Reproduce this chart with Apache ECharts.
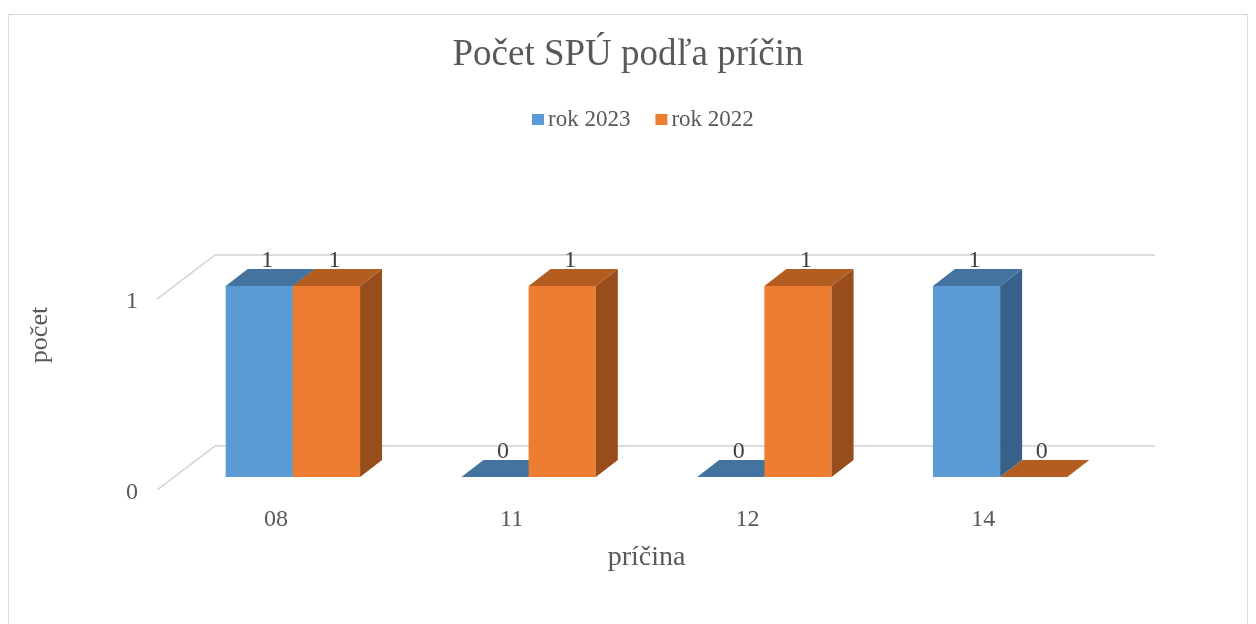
<!DOCTYPE html>
<html>
<head>
<meta charset="utf-8">
<script src="https://cdn.jsdelivr.net/npm/echarts@6/dist/echarts.min.js"></script>
<style>html,body{margin:0;padding:0;background:#fff;}#c{width:1256px;height:624px;}</style>
</head>
<body>
<div id="c"></div>
<script>
const categories = ['08', '11', '12', '14'];
const seriesNames = ['rok 2023', 'rok 2022'];
const values2023 = [1, 0, 0, 1];
const values2022 = [1, 1, 1, 0];
const yTicks = [0, 1];

const FONT = 'Liberation Serif';
const DX = 22, DY = 17;       // bar depth
const WX = 40, WY = 31;       // back wall offset
const SX = 18, SY = 13;       // side wall front overhang

function barRender(side, front, top, right) {
  return function (params, api) {
    const v = api.value(1);
    const c = api.coord([api.value(0), v]);
    const b = api.coord([api.value(0), 0]);
    const band = api.size([1, 0])[0];
    const w = band * 0.285;
    const x0 = side < 0 ? c[0] - w : c[0];
    const x1 = x0 + w;
    const yv = c[1], y0 = b[1];
    const children = [];
    if (y0 - yv > 0.5) {
      children.push({ type: 'rect', shape: { x: x0, y: yv, width: w, height: y0 - yv }, style: { fill: front } });
      children.push({ type: 'polygon', shape: { points: [[x1, yv], [x1 + DX, yv - DY], [x1 + DX, y0 - DY], [x1, y0]] }, style: { fill: right } });
    }
    children.push({ type: 'polygon', shape: { points: [[x0, yv], [x0 + DX, yv - DY], [x1 + DX, yv - DY], [x1, yv]] }, style: { fill: top } });
    children.push({ type: 'text', z2: 10, style: { text: String(v), x: (x0 + x1) / 2 + 8, y: yv - DY + 4, align: 'center', verticalAlign: 'bottom', font: '24px "' + FONT + '"', fill: '#404040' } });
    return { type: 'group', children: children };
  };
}

function gridRender(params, api) {
  const cs = params.coordSys;
  const v = api.value(1);
  const y = api.coord([0, v])[1];
  const xl = cs.x, xr = cs.x + cs.width;
  const st = { stroke: '#d0d0d0', lineWidth: 1.5 };
  return { type: 'group', children: [
    { type: 'line', shape: { x1: xl + WX, y1: y - WY, x2: xr + WX - 3, y2: y - WY }, style: st },
    { type: 'line', shape: { x1: xl - SX, y1: y + SY, x2: xl + WX, y2: y - WY }, style: st },
    { type: 'text', style: { text: String(v), x: xl - SX - 19, y: y + 16, align: 'right', verticalAlign: 'middle', font: '24px "' + FONT + '"', fill: '#595959' } }
  ] };
}

const chart = echarts.init(document.getElementById('c'));
chart.setOption({
  backgroundColor: '#fff',
  animation: false,
  graphic: [
    { type: 'rect', shape: { x: 8.5, y: 14.5, width: 1239, height: 700 }, style: { fill: 'none', stroke: '#d9d9d9', lineWidth: 1 }, silent: true, z: -10 },
    { type: 'text', x: 40, y: 335, rotation: Math.PI / 2, silent: true,
      style: { text: 'počet', align: 'center', verticalAlign: 'middle', font: '26px "' + FONT + '"', fill: '#595959' } }
  ],
  title: {
    text: 'Počet SPÚ podľa príčin', left: 'center', top: 32,
    textStyle: { fontFamily: FONT, fontSize: 37, fontWeight: 'normal', color: '#595959' }
  },
  legend: {
    data: seriesNames, top: 103, left: 527, icon: 'rect', itemWidth: 12, itemHeight: 11, itemGap: 25,
    textStyle: { fontFamily: FONT, fontSize: 23, color: '#595959', padding: [0, 0, 0, -1] }
  },
  grid: { left: 175, right: 138, top: 286, bottom: 147 },
  xAxis: {
    type: 'category', data: categories,
    axisLine: { show: false }, axisTick: { show: false },
    axisLabel: { margin: 31, padding: [0, 34, 0, 0], fontFamily: FONT, fontSize: 24, color: '#595959' },
    name: 'príčina', nameLocation: 'middle', nameGap: 67,
    nameTextStyle: { fontFamily: FONT, fontSize: 28, color: '#595959' }
  },
  yAxis: {
    type: 'value', min: 0, max: 1, interval: 1,
    axisLine: { show: false }, axisTick: { show: false }, splitLine: { show: false },
    axisLabel: { show: false }
  },
  series: [
    { type: 'custom', name: '_grid', silent: true, z: 1, data: yTicks.map(v => [0, v]), renderItem: gridRender },
    { type: 'custom', name: seriesNames[0], z: 2, itemStyle: { color: '#5B9BD5' },
      data: values2023.map((v, i) => [i, v]), renderItem: barRender(-1, '#5B9BD5', '#44739F', '#38618A') },
    { type: 'custom', name: seriesNames[1], z: 3, itemStyle: { color: '#ED7D31' },
      data: values2022.map((v, i) => [i, v]), renderItem: barRender(1, '#ED7D31', '#B45D21', '#974E1C') }
  ]
});
</script>
</body>
</html>
